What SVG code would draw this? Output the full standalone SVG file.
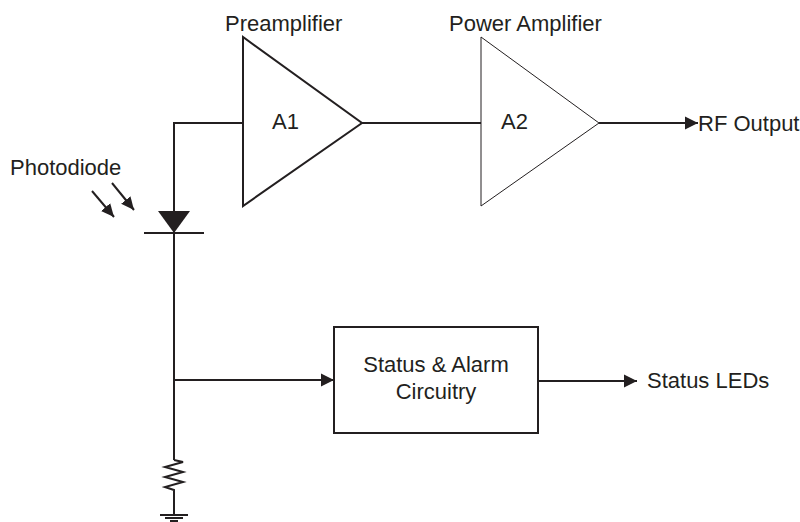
<svg xmlns="http://www.w3.org/2000/svg" width="800" height="522" viewBox="0 0 800 522">
<style>
.w{fill:none;stroke:#231f20;stroke-width:2}
.t{font-family:"Liberation Sans",Arial,sans-serif;font-size:22px;fill:#231f20}
</style>
<defs>
<marker id="ah" markerUnits="userSpaceOnUse" markerWidth="14" markerHeight="14" viewBox="0 0 14 14" refX="13" refY="7" orient="auto">
<path d="M0,0.5 L13,7 L0,13.5 Z" fill="#231f20"/>
</marker>
<marker id="la" markerUnits="userSpaceOnUse" markerWidth="14" markerHeight="14" viewBox="0 0 14 14" refX="13" refY="7" orient="auto">
<path d="M0,1 L13,7 L0,13 Z" fill="#231f20"/>
</marker>
</defs>
<rect width="800" height="522" fill="#fff"/>
<g id="connectors">
<path class="w" d="M243,123 H174 V460"/>
<path class="w" d="M362,123 H481"/>
<path class="w" d="M599,123 H698" marker-end="url(#ah)"/>
<path class="w" d="M174,380 H334" marker-end="url(#ah)"/>
<path class="w" d="M538,381 H637" marker-end="url(#ah)"/>
</g>
<g id="preamplifier">
<polygon class="w" points="243,37 243,206 362,123"/>
<text class="t" x="225" y="31">Preamplifier</text>
<text class="t" x="272" y="129">A1</text>
</g>
<g id="power-amplifier">
<polygon fill="none" stroke="#231f20" stroke-width="1" points="481,37 481,206 599,123"/>
<text class="t" x="449" y="31">Power Amplifier</text>
<text class="t" x="501" y="129">A2</text>
</g>
<g id="rf-output">
<text class="t" x="698" y="131">RF Output</text>
</g>
<g id="photodiode">
<polygon points="158,211 190,211 174,233" fill="#231f20"/>
<path class="w" d="M144,233 H204"/>
<path stroke="#231f20" stroke-width="2" d="M92,191 L114,217" marker-end="url(#la)"/>
<path stroke="#231f20" stroke-width="2" d="M112,183 L134,210" marker-end="url(#la)"/>
<text class="t" x="10" y="175">Photodiode</text>
</g>
<g id="status-alarm">
<rect class="w" x="334" y="327" width="204" height="106"/>
<text class="t" x="436" y="372" text-anchor="middle">Status &amp; Alarm</text>
<text class="t" x="436" y="399" text-anchor="middle">Circuitry</text>
</g>
<g id="status-leds">
<text class="t" x="647" y="388">Status LEDs</text>
</g>
<g id="resistor">
<path class="w" d="M174,460 L183,462 L165,467 L183,472 L165,477 L183,482 L165,487 L174,490 V515"/>
</g>
<g id="ground">
<path class="w" d="M160,515 H188 M165,518 H183 M170,521 H178"/>
</g>
</svg>
